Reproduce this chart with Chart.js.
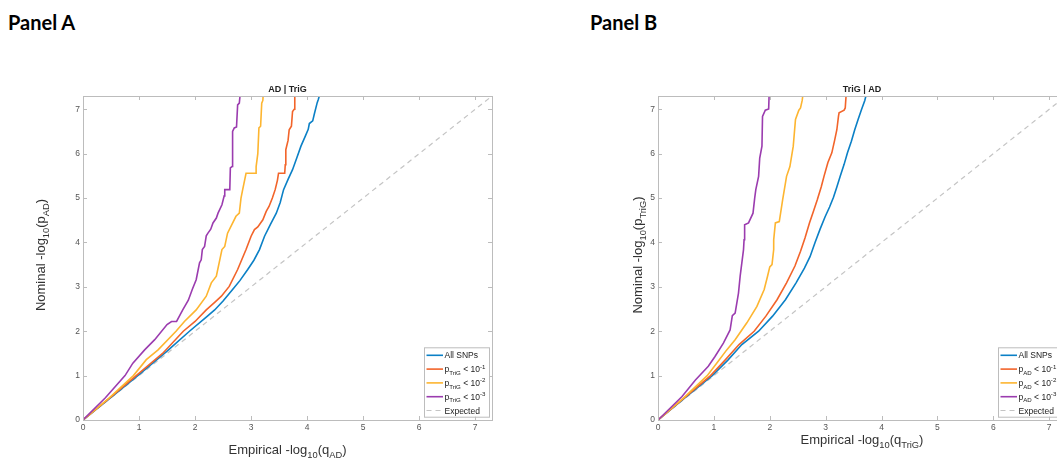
<!DOCTYPE html>
<html>
<head>
<meta charset="utf-8">
<script src="https://cdn.jsdelivr.net/npm/chart.js@4.4.1/dist/chart.umd.min.js"></script>
<style>
  html, body { margin: 0; padding: 0; background: #fff; overflow: hidden; width: 1057px; height: 459px; }
  .head { position: absolute; top: 12px; font: 700 20px Lato, "Open Sans", sans-serif; line-height: 1; color: #000; }
  .panel { position: absolute; top: 0; width: 530px; height: 459px; }
</style>
</head>
<body>
<div class="head" style="left:8px">Panel A</div>
<div class="head" style="left:590px">Panel B</div>
<div class="panel" style="left:0"><canvas id="chartA"></canvas></div>
<div class="panel" style="left:577px"><canvas id="chartB"></canvas></div>

<script>
// axes are the same in both panels
const TICKS = [0, 1, 2, 3, 4, 5, 6, 7];
const AXIS_MAX = 7.3;
const expected = [[0, 0], [8, 8]];

// Panel A : AD | TriG  ([empirical, nominal])
const aAllSnps = [[0,0],[0.5,0.51],[1,1.02],[1.5,1.55],[1.9,2.0],[2.2,2.32],[2.35,2.48],[2.5,2.68],[2.67,2.94],
  [2.8,3.14],[2.94,3.39],[3.05,3.6],[3.15,3.84],[3.24,4.14],[3.35,4.42],[3.45,4.66],[3.52,4.9],[3.58,5.19],
  [3.66,5.42],[3.74,5.64],[3.82,5.92],[3.89,6.17],[3.97,6.4],[4.02,6.55],[4.04,6.68],[4.1,6.74],[4.13,6.9],
  [4.18,7.15],[4.2,7.22],[4.24,7.4]];
const aTrig1 = [[0,0],[0.5,0.52],[0.95,1.0],[1.42,1.5],[1.79,2.0],[2.0,2.22],[2.2,2.48],[2.35,2.65],[2.47,2.79],
  [2.61,3.01],[2.76,3.39],[2.91,3.84],[3.0,4.14],[3.06,4.29],[3.12,4.35],[3.21,4.51],[3.27,4.7],[3.32,4.81],
  [3.38,5.0],[3.43,5.19],[3.47,5.4],[3.49,5.56],[3.6,5.56],[3.61,5.75],[3.62,6.09],[3.66,6.3],[3.68,6.54],
  [3.72,6.62],[3.74,6.95],[3.77,7.0],[3.78,7.4]];
const aTrig2 = [[0,0],[0.47,0.5],[0.9,1.0],[1.13,1.36],[1.34,1.58],[1.66,2.0],[1.81,2.22],[2.02,2.48],[2.2,2.79],
  [2.29,3.09],[2.38,3.24],[2.48,3.84],[2.53,3.91],[2.58,4.21],[2.73,4.59],[2.79,4.66],[2.82,5.0],[2.85,5.19],
  [2.91,5.56],[3.09,5.56],[3.09,5.71],[3.12,6.0],[3.14,6.58],[3.17,6.62],[3.19,7.14],[3.21,7.2],[3.22,7.4]];
const aTrig3 = [[0,0],[0.4,0.5],[0.75,1.0],[0.89,1.28],[1.1,1.58],[1.28,1.81],[1.5,2.15],[1.58,2.22],[1.67,2.22],
  [1.78,2.48],[1.88,2.7],[1.95,2.94],[2.02,3.16],[2.08,3.54],[2.11,3.61],[2.13,3.84],[2.17,3.91],[2.2,4.15],
  [2.23,4.21],[2.28,4.3],[2.32,4.44],[2.38,4.55],[2.41,4.66],[2.48,4.85],[2.52,5.05],[2.53,5.19],[2.62,5.19],
  [2.63,5.68],[2.66,5.71],[2.67,6.5],[2.7,6.58],[2.74,6.6],[2.76,7.1],[2.79,7.14],[2.81,7.4]];

// Panel B : TriG | AD
const bAllSnps = [[0,0],[0.48,0.5],[0.97,1.0],[1.25,1.35],[1.5,1.7],[1.8,2.0],[2.05,2.34],[2.28,2.71],[2.47,3.09],
  [2.62,3.42],[2.72,3.68],[2.81,4.0],[2.9,4.3],[2.99,4.58],[3.07,4.8],[3.14,5.02],[3.2,5.25],[3.26,5.49],
  [3.33,5.76],[3.39,6.02],[3.46,6.28],[3.52,6.54],[3.58,6.77],[3.64,6.99],[3.7,7.2],[3.74,7.4]];
const bAd1 = [[0,0],[0.47,0.5],[0.94,1.0],[1.2,1.35],[1.45,1.7],[1.72,2.0],[1.93,2.34],[2.13,2.71],[2.3,3.09],
  [2.45,3.47],[2.55,3.8],[2.63,4.1],[2.71,4.44],[2.78,4.7],[2.85,4.96],[2.92,5.25],[2.97,5.49],[3.04,5.8],
  [3.11,6.02],[3.16,6.3],[3.2,6.54],[3.23,6.85],[3.24,6.92],[3.33,6.98],[3.35,7.03],[3.37,7.4]];
const bAd2 = [[0,0],[0.46,0.5],[0.88,1.0],[1.05,1.28],[1.23,1.58],[1.38,1.81],[1.59,2.19],[1.77,2.56],[1.9,2.94],
  [1.96,3.24],[2.0,3.45],[2.04,3.5],[2.07,3.84],[2.07,4.06],[2.1,4.44],[2.17,4.47],[2.23,4.96],[2.3,5.49],
  [2.36,5.71],[2.42,6.17],[2.46,6.77],[2.52,6.98],[2.55,7.03],[2.58,7.2],[2.6,7.4]];
const bAd3 = [[0,0],[0.43,0.53],[0.67,0.9],[0.9,1.21],[1.02,1.43],[1.17,1.73],[1.29,2.03],[1.33,2.35],[1.38,2.41],
  [1.44,2.86],[1.47,3.24],[1.53,3.84],[1.54,4.06],[1.55,4.4],[1.62,4.44],[1.7,4.66],[1.73,5.0],[1.75,5.19],
  [1.8,5.49],[1.82,5.9],[1.86,6.17],[1.87,6.84],[1.92,6.98],[1.98,7.01],[1.99,7.4]];

const COLORS = ['#0b80c6', '#f2642a', '#fdb530', '#9b3caf'];
const EXPECTED_COLOR = '#c4c4c4';
const FONT = '"Liberation Sans", Arial, sans-serif';

function pLess(letter, sub, exp) {
  return [{ t: letter }, { t: sub, s: 'sub' }, { t: ' < 10' }, { t: exp, s: 'sup' }];
}

function segFont(seg, size, weight) {
  const sz = seg.s ? size * 0.72 : size;
  return (weight || '') + ' ' + sz.toFixed(2) + 'px ' + FONT;
}

function richWidth(ctx, segs, size) {
  let w = 0;
  segs.forEach(seg => { ctx.font = segFont(seg, size); w += ctx.measureText(seg.t).width; });
  return w;
}

function drawRich(ctx, segs, x, y, size, align) {
  let cx = align === 'center' ? x - richWidth(ctx, segs, size) / 2 : x;
  ctx.textAlign = 'left';
  ctx.textBaseline = 'alphabetic';
  segs.forEach(seg => {
    ctx.font = segFont(seg, size);
    let dy = 0;
    if (seg.s === 'sub') dy = size * 0.32;
    if (seg.s === 'sup') dy = -size * 0.42;
    ctx.fillText(seg.t, cx, y + dy);
    cx += ctx.measureText(seg.t).width;
  });
}

// MATLAB look: box, inward ticks, axis labels, title and legend
const matlabAxes = {
  id: 'matlabAxes',
  afterDraw(chart, args, opts) {
    const ctx = chart.ctx;
    const { left, right, top, bottom } = chart.chartArea;
    const xs = chart.scales.x, ys = chart.scales.y;
    ctx.save();

    ctx.strokeStyle = '#bcbcbc';
    ctx.lineWidth = 1;
    ctx.strokeRect(Math.round(left) + 0.5, Math.round(top) + 0.5, Math.round(right - left), Math.round(bottom - top));
    ctx.beginPath();
    TICKS.forEach(v => {
      const px = Math.round(xs.getPixelForValue(v)) + 0.5;
      ctx.moveTo(px, bottom); ctx.lineTo(px, bottom - 4);
      ctx.moveTo(px, top); ctx.lineTo(px, top + 4);
      const py = Math.round(ys.getPixelForValue(v)) + 0.5;
      ctx.moveTo(left, py); ctx.lineTo(left + 4, py);
      ctx.moveTo(right, py); ctx.lineTo(right - 4, py);
    });
    ctx.stroke();

    // title
    ctx.fillStyle = '#222';
    ctx.font = 'bold 9px ' + FONT;
    ctx.textAlign = 'center';
    ctx.textBaseline = 'alphabetic';
    ctx.fillText(opts.title, (left + right) / 2, top - 4);

    // axis labels
    ctx.fillStyle = '#333';
    drawRich(ctx, opts.xLabel, (left + right) / 2, bottom + opts.xLabelOffset, 13, 'center');
    ctx.save();
    ctx.translate(left - opts.yLabelOffset, (top + bottom) / 2 - 3);
    ctx.rotate(-Math.PI / 2);
    drawRich(ctx, opts.yLabel, 0, 0, 13, 'center');
    ctx.restore();

    // legend (south east)
    const bx = right - 68, by = bottom - 72.7, bw = 65, bh = 69.4;
    ctx.fillStyle = '#fff';
    ctx.fillRect(bx, by, bw, bh);
    ctx.strokeStyle = '#bdbdbd';
    ctx.strokeRect(bx + 0.5, by + 0.5, bw, bh);
    const order = [0, 1, 2, 3, 4];
    order.forEach((di, i) => {
      const ds = chart.data.datasets[di];
      const cy = by + 8 + i * 13.8;
      ctx.strokeStyle = ds.borderColor;
      ctx.lineWidth = ds.borderWidth;
      ctx.setLineDash(ds.borderDash || []);
      ctx.beginPath();
      ctx.moveTo(bx + 2.5, cy); ctx.lineTo(bx + 19, cy);
      ctx.stroke();
      ctx.setLineDash([]);
      ctx.fillStyle = '#222';
      drawRich(ctx, ds.rich, bx + 20.5, cy + 3, 8.5, 'left');
    });
    ctx.restore();
  }
};

function toPoints(arr) {
  return arr.map(p => ({ x: p[0], y: p[1] }));
}

function makeDatasets(series, names) {
  const sets = series.map((s, i) => ({
    label: names[i].map(seg => seg.t).join(''),
    rich: names[i],
    data: toPoints(s),
    borderColor: COLORS[i],
    borderWidth: 1.6,
    order: 3 - i
  }));
  sets.push({
    label: 'Expected',
    rich: [{ t: 'Expected' }],
    data: toPoints(expected),
    borderColor: EXPECTED_COLOR,
    borderWidth: 1.2,
    borderDash: [5, 4],
    order: 5
  });
  return sets;
}

function axis(fitKey, fitValue) {
  return {
    type: 'linear',
    min: 0,
    max: AXIS_MAX,
    grid: { display: false, drawTicks: false, tickLength: 0 },
    border: { display: false },
    ticks: {
      stepSize: 1,
      includeBounds: false,
      color: '#555',
      padding: 3,
      font: { family: FONT, size: 8.5 },
      callback: v => (Number.isInteger(v) ? v : '')
    },
    afterFit(scale) { scale[fitKey] = fitValue; }
  };
}

function makeChart(id, datasets, padding, plotOpts) {
  new Chart(document.getElementById(id), {
    type: 'scatter',
    data: { datasets },
    options: {
      responsive: true,
      maintainAspectRatio: false,
      animation: false,
      layout: { padding },
      elements: { point: { radius: 0 }, line: { tension: 0 } },
      datasets: { scatter: { showLine: true } },
      scales: { x: axis('height', 20), y: axis('width', 20) },
      plugins: { legend: { display: false }, tooltip: { enabled: false }, matlabAxes: plotOpts }
    },
    plugins: [matlabAxes]
  });
}

const namesA = [[{ t: 'All SNPs' }], pLess('p', 'TriG', '-1'), pLess('p', 'TriG', '-2'), pLess('p', 'TriG', '-3')];
const namesB = [[{ t: 'All SNPs' }], pLess('p', 'AD', '-1'), pLess('p', 'AD', '-2'), pLess('p', 'AD', '-3')];

makeChart('chartA', makeDatasets([aAllSnps, aTrig1, aTrig2, aTrig3], namesA),
  { left: 63, right: 38, top: 96, bottom: 19 },
  {
    title: 'AD | TriG',
    xLabel: [{ t: 'Empirical -log' }, { t: '10', s: 'sub' }, { t: '(q' }, { t: 'AD', s: 'sub' }, { t: ')' }],
    yLabel: [{ t: 'Nominal -log' }, { t: '10', s: 'sub' }, { t: '(p' }, { t: 'AD', s: 'sub' }, { t: ')' }],
    xLabelOffset: 34,
    yLabelOffset: 38
  });

makeChart('chartB', makeDatasets([bAllSnps, bAd1, bAd2, bAd3], namesB),
  { left: 61, right: 41, top: 96, bottom: 19 },
  {
    title: 'TriG | AD',
    xLabel: [{ t: 'Empirical -log' }, { t: '10', s: 'sub' }, { t: '(q' }, { t: 'TriG', s: 'sub' }, { t: ')' }],
    yLabel: [{ t: 'Nominal -log' }, { t: '10', s: 'sub' }, { t: '(p' }, { t: 'TriG', s: 'sub' }, { t: ')' }],
    xLabelOffset: 23.5,
    yLabelOffset: 16
  });
</script>
</body>
</html>
